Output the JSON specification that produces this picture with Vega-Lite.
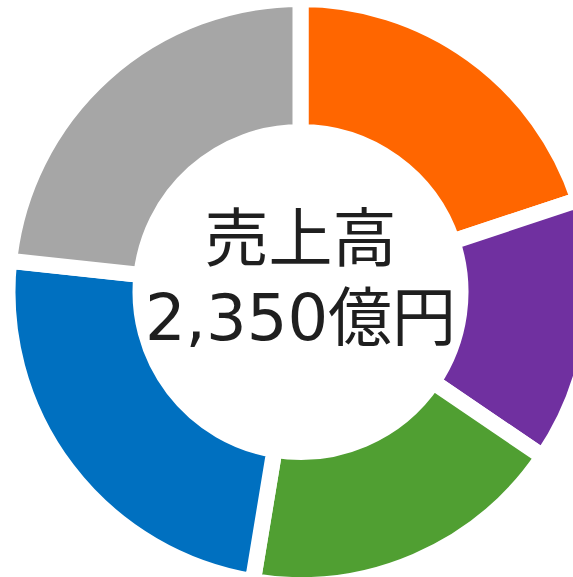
{
  "$schema": "https://vega.github.io/schema/vega-lite/v6.json",
  "width": 545,
  "height": 570,
  "autosize": {"type": "none"},
  "padding": {"left": 28, "top": 7, "right": 0, "bottom": 0},
  "background": "white",
  "config": {"view": {"stroke": null}},
  "layer": [
    {
      "data": {
        "values": [
          {"segment": "A", "share": 19.9, "rank": 1},
          {"segment": "B", "share": 14.6, "rank": 2},
          {"segment": "C", "share": 18.1, "rank": 3},
          {"segment": "D", "share": 24.1, "rank": 4},
          {"segment": "E", "share": 23.3, "rank": 5}
        ]
      },
      "mark": {"type": "arc", "outerRadius": 293, "innerRadius": 160, "stroke": "white", "strokeWidth": 16},
      "encoding": {
        "theta": {"field": "share", "type": "quantitative", "stack": true},
        "order": {"field": "rank", "type": "quantitative"},
        "color": {
          "field": "segment",
          "type": "nominal",
          "sort": null,
          "scale": {"domain": ["A", "B", "C", "D", "E"], "range": ["#FF6600", "#7030A0", "#509F32", "#0070C0", "#A6A6A6"]},
          "legend": null
        }
      }
    },
    {
      "data": {"values": [{"title": "売上高", "amount": "2,350億円"}]},
      "mark": {"type": "text", "font": "DejaVu Sans, Noto Sans CJK JP", "fontSize": 64, "baseline": "alphabetic", "align": "center", "dy": -31, "color": "#1F1F1F"},
      "encoding": {"text": {"field": "title"}}
    },
    {
      "data": {"values": [{"title": "売上高", "amount": "2,350億円"}]},
      "mark": {"type": "text", "font": "DejaVu Sans, Noto Sans CJK JP", "fontSize": 64, "baseline": "alphabetic", "align": "center", "dy": 48, "color": "#1F1F1F"},
      "encoding": {"text": {"field": "amount"}}
    }
  ]
}
